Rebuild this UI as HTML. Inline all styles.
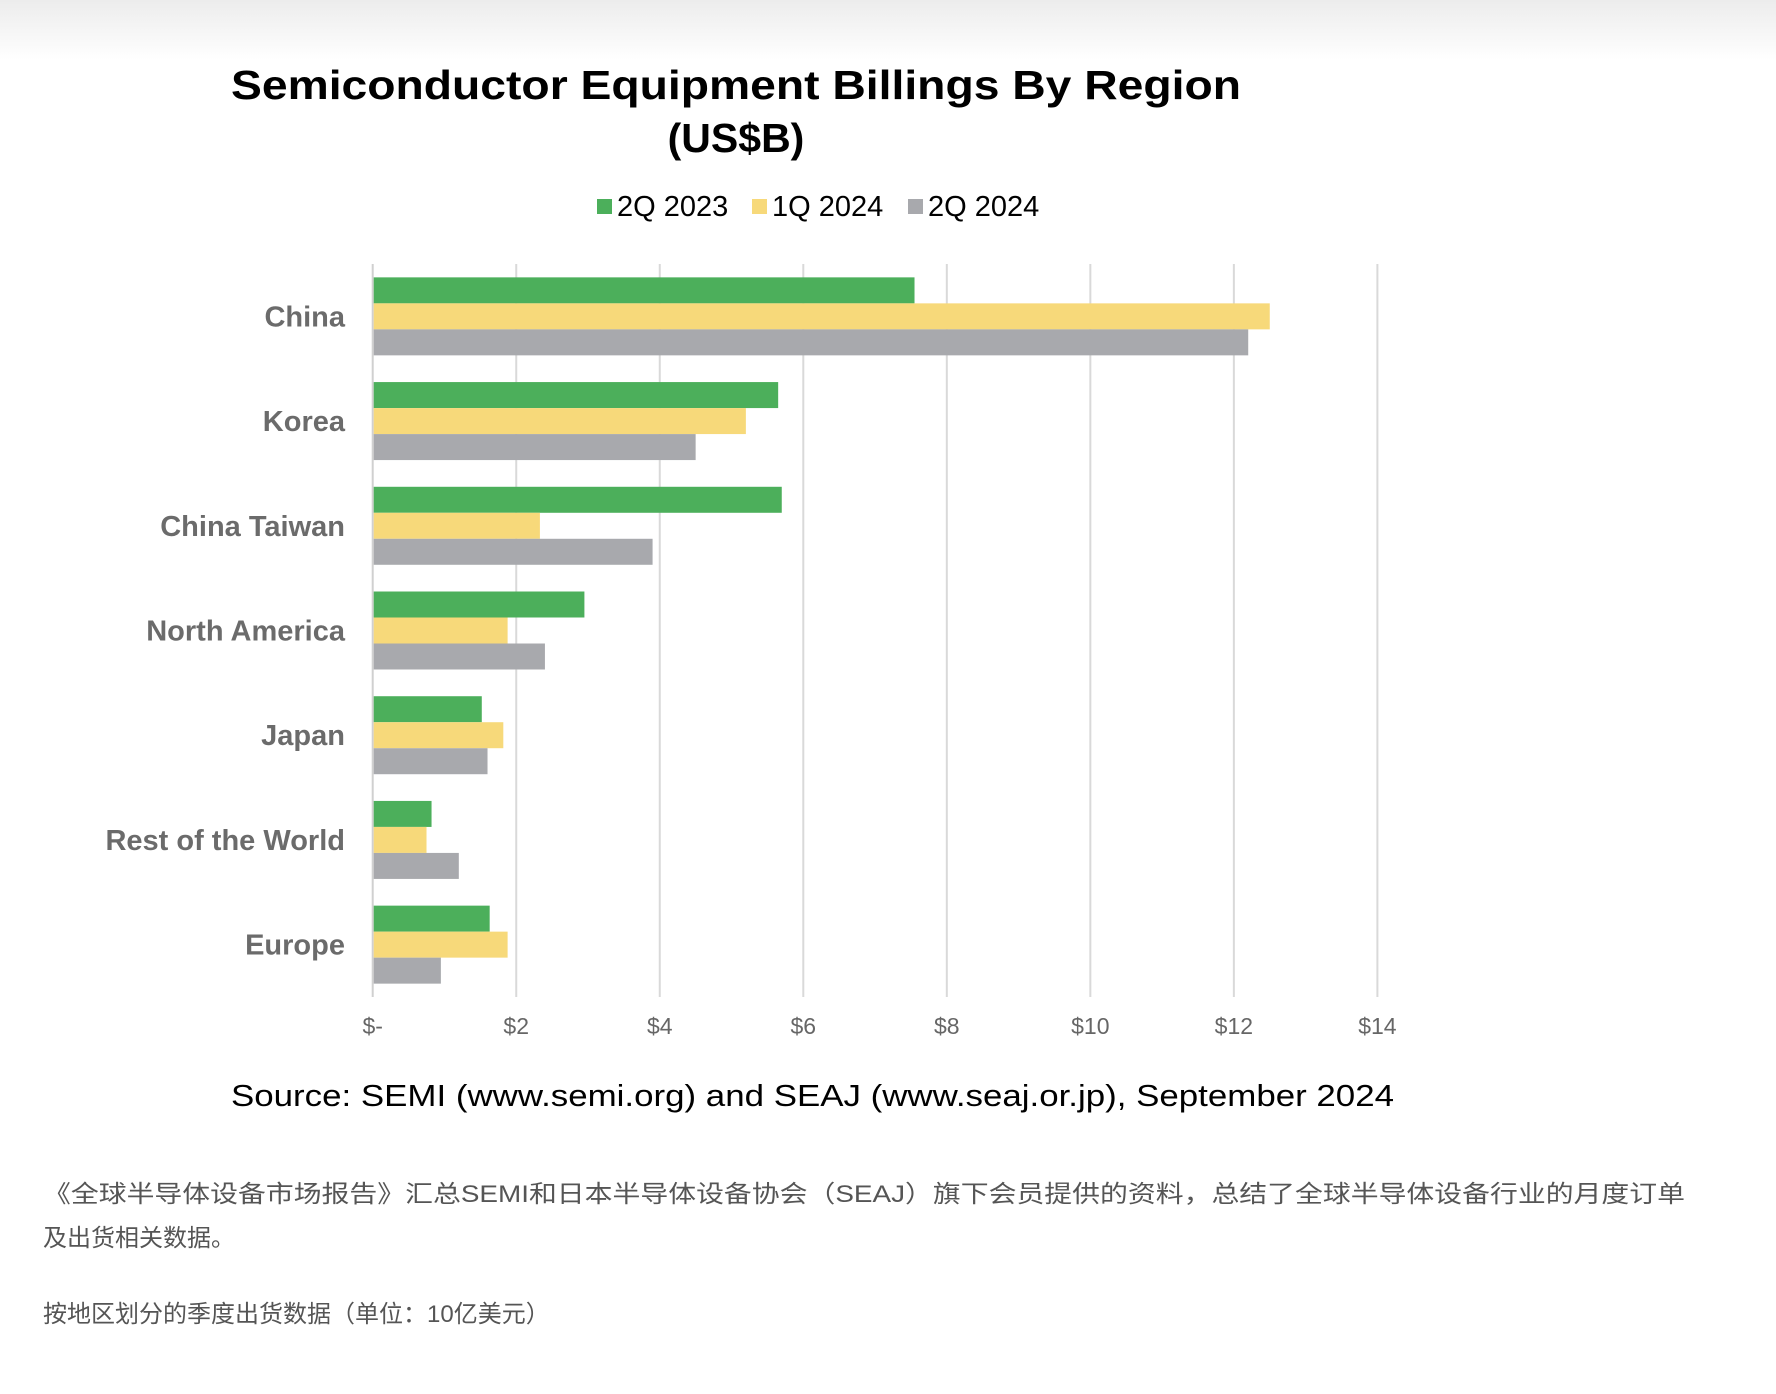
<!DOCTYPE html>
<html><head><meta charset="utf-8"><style>
html,body{margin:0;padding:0;background:#fff;width:1776px;height:1394px;overflow:hidden}
svg{display:block}
</style></head><body>
<svg id="chart" width="1776" height="1394" viewBox="0 0 1776 1394" xmlns="http://www.w3.org/2000/svg">
<defs><linearGradient id="topg" x1="0" y1="0" x2="0" y2="1"><stop offset="0" stop-color="#ececec"/><stop offset="1" stop-color="#ffffff"/></linearGradient></defs>
<rect x="0" y="0" width="1776" height="60" fill="url(#topg)"/>
<g font-family="'Liberation Sans', Arial, sans-serif">
<text x="736" y="99" text-anchor="middle" font-size="41" font-weight="bold" fill="#000" textLength="1010" lengthAdjust="spacingAndGlyphs">Semiconductor Equipment Billings By Region</text>
<text x="736" y="152" text-anchor="middle" font-size="41" font-weight="bold" fill="#000">(US$B)</text>
<g id="legend"></g>
<g id="grid"></g>
<g id="bars"></g>
<g id="cats"></g>
<g id="ticks"></g>
<text x="231" y="1106" font-size="31" fill="#000" textLength="1163" lengthAdjust="spacingAndGlyphs">Source: SEMI (www.semi.org) and SEAJ (www.seaj.or.jp), September 2024</text>
</g>
<g font-family="'Liberation Sans', 'Noto Sans CJK SC', sans-serif" font-size="24" fill="#555">
<text x="43" y="1202" textLength="1642" lengthAdjust="spacingAndGlyphs">《全球半导体设备市场报告》汇总SEMI和日本半导体设备协会（SEAJ）旗下会员提供的资料，总结了全球半导体设备行业的月度订单</text>
<text x="43" y="1246">及出货相关数据。</text>
<text x="43" y="1322">按地区划分的季度出货数据（单位：10亿美元）</text>
</g>
</svg>
<script>
const categories = ["China","Korea","China Taiwan","North America","Japan","Rest of the World","Europe"];
const seriesNames = ["2Q 2023","1Q 2024","2Q 2024"];
const s2Q2023 = [7.55, 5.65, 5.7, 2.95, 1.52, 0.82, 1.63];
const s1Q2024 = [12.5, 5.2, 2.33, 1.88, 1.82, 0.75, 1.88];
const s2Q2024 = [12.2, 4.5, 3.9, 2.4, 1.6, 1.2, 0.95];
const tickValues = [0,2,4,6,8,10,12,14];
const tickLabels = ["$-","$2","$4","$6","$8","$10","$12","$14"];

const NS="http://www.w3.org/2000/svg";
const colors=["#4caf5b","#f7d97a","#a8a9ad"];
const series=[s2Q2023,s1Q2024,s2Q2024];
const x0=372.7, x1=1377.4, xmax=14, yTop=264, yBottom=997;
const xs=v=>x0+(x1-x0)*v/xmax;
const band=(yBottom-yTop)/categories.length;
const barH=26;
function mk(tag,attrs,parent){const e=document.createElementNS(NS,tag);for(const k in attrs)e.setAttribute(k,attrs[k]);parent.appendChild(e);return e;}

const grid=document.getElementById('grid');
const ticksG=document.getElementById('ticks');
tickValues.forEach((t,i)=>{
  const g=mk('line',{x1:xs(t),x2:xs(t),y1:yTop,y2:yBottom,stroke:i===0?'#d0d0d0':'#d9d9d9','stroke-width':2},grid);
  
  
  const tx=mk('text',{x:xs(t),y:1034,'text-anchor':'middle','font-size':23,fill:'#666'},ticksG);
  tx.textContent=tickLabels[i];
  
  
});

const bars=document.getElementById('bars');
const cats=document.getElementById('cats');
categories.forEach((c,ci)=>{
  const center=yTop+band*(ci+0.5);
  const y0=center-barH*1.5;
  series.forEach((s,si)=>{
    const r=mk('rect',{x:xs(0)+1,y:y0+si*barH,width:Math.max(0,xs(s[ci])-xs(0)-1),height:barH,fill:colors[si]},bars);
    
    
  });
  const t=mk('text',{x:345,y:center+10,'text-anchor':'end','font-size':29,'font-weight':'bold',fill:'#6b6b6b'},cats);
  t.textContent=c;
  
  
});

const legend=document.getElementById('legend');
const lx=[597,752,908];
seriesNames.forEach((n,i)=>{
  const r=mk('rect',{x:lx[i],y:199,width:15,height:15,fill:colors[i]},legend);
  
  
  const t=mk('text',{x:lx[i]+20,y:216,'font-size':29,fill:'#000'},legend);
  t.textContent=n;
  
  
});
</script>
</body></html>
